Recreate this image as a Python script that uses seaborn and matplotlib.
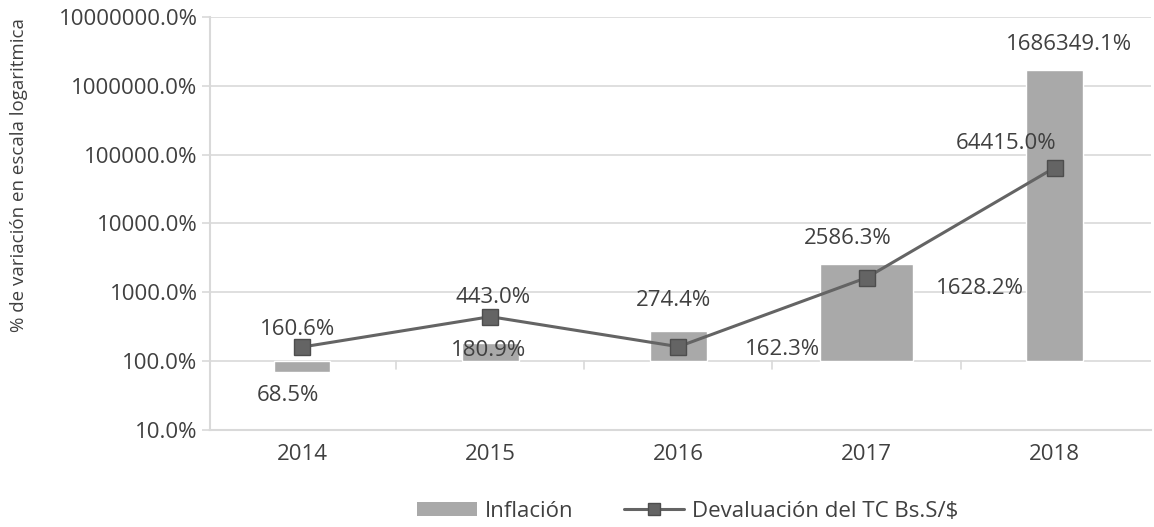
import matplotlib
matplotlib.use("Agg")
import matplotlib.pyplot as plt
import numpy as np
import pandas as pd
import seaborn as sns
from matplotlib.lines import Line2D
from matplotlib.patches import Patch

# data
years = ["2014", "2015", "2016", "2017", "2018"]
inflacion = [68.5, 180.9, 274.4, 2586.3, 1686349.1]
devaluacion = [160.6, 443.0, 162.3, 1628.2, 64415.0]
y_ticks = [10, 100, 1000, 10000, 100000, 1000000, 10000000]

df = pd.DataFrame({"year": years, "inflacion": inflacion, "devaluacion": devaluacion})
df["pos"] = np.arange(len(df))

sns.set_theme(style="white")
plt.rcParams["font.family"] = ["Open Sans", "DejaVu Sans"]

TEXT = "#404040"
BAR = "#a9a9a9"
LINE = "#646464"
GRID = "#d9d9d9"
FS = 16

fig = plt.figure(figsize=(11.54, 5.27), dpi=100)
ax = fig.add_axes([0.182, 0.184, 0.815, 0.784])

# bars are anchored at 100% on the log axis (category axis crosses there)
bar_widths = [0.30, 0.30, 0.30, 0.49, 0.30]
base = 100
ax.bar(df["pos"], df["inflacion"] - base, bottom=base, width=bar_widths,
       color=BAR, zorder=2)

sns.lineplot(data=df, x="pos", y="devaluacion", ax=ax, color=LINE, lw=2.2,
             marker="s", markersize=11, markeredgecolor="#4d4d4d",
             markeredgewidth=1, zorder=3, legend=False)

ax.set_yscale("log")
ax.set_ylim(10, 10000000)
ax.set_yticks(y_ticks)
ax.set_yticklabels([f"{v:.1f}%" for v in y_ticks])
ax.minorticks_off()
ax.set_xlim(-0.49, 4.51)
ax.set_xticks(df["pos"])
ax.set_xticklabels(years)
ax.set_xlabel("")
ax.set_ylabel("% de variación en escala logaritmica", fontsize=13.5, color=TEXT)
ax.yaxis.set_label_coords(-0.194, 0.617)
ax.tick_params(axis="x", labelsize=FS, colors=TEXT, length=0, pad=10)
ax.tick_params(axis="y", labelsize=FS, labelcolor=TEXT, color=GRID, length=6,
               width=1.2, pad=3, left=True)

ax.yaxis.grid(True, color=GRID, lw=1.2, zorder=0)
ax.set_axisbelow(True)
for s in ["top", "right"]:
    ax.spines[s].set_visible(False)
ax.spines["left"].set_color(GRID)
ax.spines["bottom"].set_color(GRID)
ax.spines["left"].set_linewidth(1.5)
ax.spines["bottom"].set_linewidth(1.5)
# category separators hang below the 100% line
for x in np.arange(0.5, 4.5, 1.0):
    ax.plot([x, x], [base, 10 ** 1.88], color=GRID, lw=1.2, zorder=1)

# label offsets in pixels, as placed in the reference
bar_off = [(-14, -23), (-2, -7), (-5, 30), (-19, 25), (14, 26)]
line_off = [(-5, 18), (3, 19), (104, -3), (113, -11), (-49, 24)]
for i, row in df.iterrows():
    ax.annotate(f"{row['inflacion']:.1f}%", (row["pos"], row["inflacion"]),
                xytext=bar_off[i], textcoords="offset pixels",
                ha="center", va="center", fontsize=FS, color=TEXT, zorder=4)
    ax.annotate(f"{row['devaluacion']:.1f}%", (row["pos"], row["devaluacion"]),
                xytext=line_off[i], textcoords="offset pixels",
                ha="center", va="center", fontsize=FS, color=TEXT, zorder=4)

handles = [
    Patch(facecolor=BAR, edgecolor="none"),
    Line2D([0], [0], color=LINE, lw=2.2, marker="s", markersize=9,
           markeredgecolor="#4d4d4d"),
]
fig.legend(handles, ["Inflación", "Devaluación del TC Bs.S/$"],
           loc="center", bbox_to_anchor=(0.596, 0.03), ncol=2, frameon=False,
           fontsize=FS, labelcolor=TEXT, handlelength=2.7, handleheight=0.6,
           handletextpad=0.35, columnspacing=2.3)

fig.savefig("out.png", dpi=100)
